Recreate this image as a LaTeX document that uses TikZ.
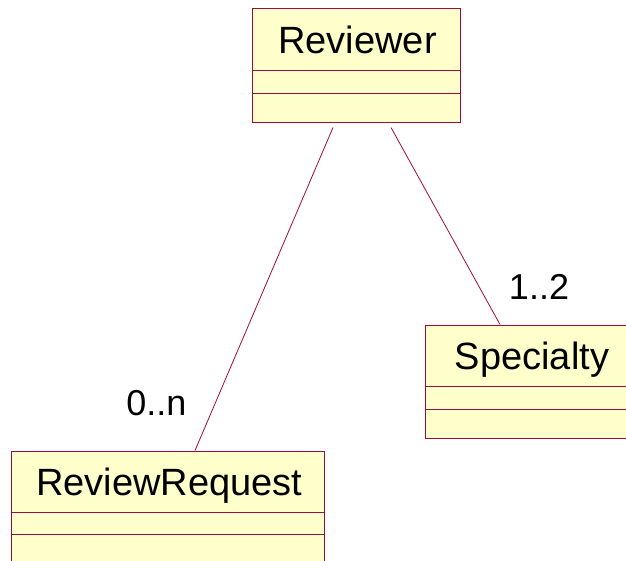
\documentclass[tikz,border=0pt]{standalone}
\usepackage{fontspec}
\setmainfont{Liberation Sans}
\usetikzlibrary{calc}
\definecolor{umlborder}{HTML}{9E0B3F}
\definecolor{umlfill}{HTML}{FFFFCC}
\tikzset{
  classbox/.style={draw=umlborder, fill=umlfill, line width=1pt, inner sep=0pt, rectangle},
  classname/.style={anchor=base, inner sep=0pt, font=\fontsize{38}{45}\selectfont},
  multlabel/.style={anchor=base, inner sep=0pt, font=\fontsize{36}{43}\selectfont},
  divider/.style={draw=umlborder, line width=0.8pt},
  assoc/.style={draw=umlborder, line width=0.8pt}
}
\begin{document}
\begin{tikzpicture}[x=1pt, y=-1pt]
\useasboundingbox (0,0) rectangle (626,561);
\clip (0,0) rectangle (626,561);
\fill[white] (0,0) rectangle (626,561);

% class boxes
\node[classbox, minimum width=208pt, minimum height=114pt] (rev) at (356,66) {};
\node[classbox, minimum width=214pt, minimum height=113pt] (spec) at (532,381.5) {};
\node[classbox, minimum width=313pt, minimum height=113pt] (rr) at (167.5,507.5) {};

% compartment dividers
\draw[divider] ([yshift=-62pt]rev.north west) -- ([yshift=-62pt]rev.north east);
\draw[divider] ([yshift=-85pt]rev.north west) -- ([yshift=-85pt]rev.north east);
\draw[divider] ([yshift=-62pt]spec.north west) -- ([yshift=-62pt]spec.north east);
\draw[divider] ([yshift=-85pt]spec.north west) -- ([yshift=-85pt]spec.north east);
\draw[divider] ([yshift=-62pt]rr.north west) -- ([yshift=-62pt]rr.north east);
\draw[divider] ([yshift=-84pt]rr.north west) -- ([yshift=-84pt]rr.north east);

% class names
\node[classname] (revname) at (357.5,54) {Reviewer};
\node[classname] (specname) at (532,369) {Specialty};
\node[classname] (rrname) at (169.5,495.7) {ReviewRequest};

% associations
\coordinate (revA) at ([xshift=-23pt,yshift=-4pt]rev.south);
\coordinate (revB) at ([xshift=35pt,yshift=-4pt]rev.south);
\draw[assoc] (revA) -- ([xshift=27.5pt]rr.north);
\draw[assoc] (revB) -- ([xshift=-32pt]spec.north);

% multiplicities
\node[multlabel] (multrr) at (156.4,415) {0..n};
\node[multlabel] (multspec) at (539,299) {1..2};
\end{tikzpicture}
\end{document}
